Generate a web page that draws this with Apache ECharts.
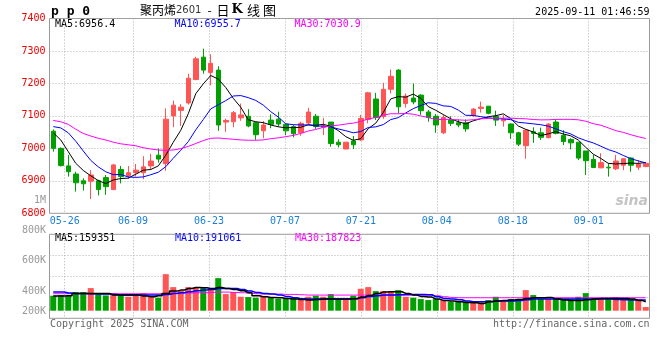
<!DOCTYPE html>
<html>
<head>
<meta charset="utf-8">
<script src="https://cdn.jsdelivr.net/npm/echarts@6/dist/echarts.min.js"></script>
<style>html,body{margin:0;padding:0;background:#fff}#c{width:660px;height:360px}</style>
</head>
<body>
<div id="c"></div>
<script>
// ---------- data ----------
const dates = ['05-22','05-23','05-26','05-27','05-28','05-29','05-30','06-03','06-04','06-05',
'06-06','06-09','06-10','06-11','06-12','06-13','06-16','06-17','06-18','06-19',
'06-20','06-23','06-24','06-25','06-26','06-27','06-30','07-01','07-02','07-03',
'07-04','07-07','07-08','07-09','07-10','07-11','07-14','07-15','07-16','07-17',
'07-18','07-21','07-22','07-23','07-24','07-25','07-28','07-29','07-30','07-31',
'08-01','08-04','08-05','08-06','08-07','08-08','08-11','08-12','08-13','08-14',
'08-15','08-18','08-19','08-20','08-21','08-22','08-25','08-26','08-27','08-28',
'08-29','09-01','09-02','09-03','09-04','09-05','09-08','09-09','09-10','09-11'];

const opens = [7053,7000,6946,6921,6900,6899,6900,6910,6873,6935,
6916,6925,6925,6946,6979,6953,7100,7117,7140,7212,
7281,7234,7241,7081,7082,7094,7099,7079,7054,7087,
7090,7074,7067,7048,7078,7099,7065,7081,7019,6998,
7023,7026,7089,7152,7098,7182,7241,7138,7155,7164,
7112,7099,7048,7087,7079,7079,7101,7123,7130,7099,
7085,7075,7048,7008,7051,7048,7033,7081,7040,7027,
7019,6992,6966,6940,6942,6937,6948,6970,6942,6944];
const closes = [7000,6947,6928,6894,6891,6918,6873,6882,6949,6913,
6925,6933,6943,6961,6967,7090,7133,7127,7216,7276,
7241,7262,7072,7086,7110,7103,7069,7042,7072,7074,
7075,7054,7045,7077,7112,7067,7069,7015,7011,7019,
7011,7092,7171,7095,7182,7222,7128,7161,7143,7116,
7095,7072,7095,7077,7072,7060,7121,7127,7108,7087,
7089,7048,7013,7056,7046,7034,7075,7046,7021,7017,
6970,6962,6941,6956,6940,6961,6968,6948,6952,6954];
const lows = [6990,6944,6913,6867,6870,6844,6855,6857,6873,6892,
6906,6913,6905,6933,6956,6931,7065,7069,7135,7210,
7230,7194,7054,7051,7065,7085,7065,7026,7031,7062,
7067,7041,7034,7039,7072,7060,7041,7005,7003,6998,
6998,7023,7077,7087,7091,7169,7108,7126,7136,7103,
7082,7048,7044,7069,7065,7051,7097,7110,7105,7069,
7067,7029,7007,6968,7017,7026,7031,7043,7010,6997,
6964,6918,6939,6939,6913,6933,6933,6928,6933,6942];
const highs = [7058,7003,6980,6928,6908,6933,6903,6918,6952,6946,
6946,6952,6976,6983,7000,7123,7147,7136,7230,7282,
7307,7290,7253,7092,7115,7138,7121,7082,7084,7105,
7113,7077,7072,7082,7125,7106,7094,7081,7028,7019,
7038,7103,7174,7171,7202,7243,7244,7169,7200,7167,
7118,7106,7103,7099,7089,7089,7124,7144,7130,7116,
7103,7077,7051,7058,7065,7064,7077,7089,7056,7031,
7019,6992,6980,6985,6954,6980,6969,6973,6964,6956];

const ma5 = [7048,7026,6990,6954,6932,6915.6,6900.8,6891.6,6902.6,6907,
6908.4,6920.4,6932.6,6935,6945.8,6978.8,7018.8,7055.6,7106.6,7168.4,
7198.6,7224.4,7213.4,7187.4,7154.2,7126.6,7088,7082,7079.2,7072,
7066.4,7063.4,7064,7065,7072.6,7071,7074,7068,7054.8,7036.2,
7025,7029.6,7060.8,7077.6,7110.2,7152.4,7159.6,7157.6,7167.2,7154,
7128.6,7117.4,7104.2,7091,7082.2,7075.2,7085,7091.4,7097.6,7100.6,
7106.4,7091.8,7069,7058.6,7050.4,7039.4,7044.8,7051.4,7044.4,7038.6,
7025.8,7003.2,6982.2,6969.2,6953.8,6952,6953.2,6954.6,6953.8,6956.6];
const ma10 = [7067,7063,7048,7022,6992,6963,6943,6928,6919,6919.5,
6912,6910.6,6912.1,6918.8,6926.4,6943.6,6969.6,6994.1,7020.8,7057.1,
7088.7,7121.6,7134.5,7147,7161.3,7162.6,7156.2,7147.7,7133.3,7113.1,
7096.5,7075.7,7073,7072.1,7072.3,7068.7,7068.7,7066,7059.9,7054.4,
7048,7051.8,7064.4,7066.2,7073.2,7088.7,7094.6,7109.2,7122.4,7132.1,
7140.5,7138.5,7130.9,7129.1,7118.1,7101.9,7101.2,7097.8,7094.3,7091.4,
7090.8,7088.4,7080.2,7078.1,7075.5,7072.9,7068.3,7060.2,7051.5,7044.5,
7032.6,7024,7016.8,7006.8,6996.2,6988.9,6978.2,6968.4,6961.5,6955.2];
const ma30 = [7086,7082,7074,7059,7046,7038,7031,7026,7019,7014,
7011,7008,7002,6998,6995,6994,6995,6999,7006,7015,
7024,7031,7032,7030,7028,7026,7025,7025,7026,7029.9,
7032.4,7036,7039.9,7046,7053.3,7058.3,7064.8,7069.3,7071.3,7074.9,
7077.7,7083,7090.6,7095.1,7102.3,7106.7,7106.5,7107.6,7105.2,7099.9,
7095,7088.7,7089.4,7089.1,7087.9,7086.4,7088.2,7091,7092.2,7092.6,
7093.1,7092.9,7091.8,7091.1,7088.9,7087.8,7088,7089.1,7089.4,7089.3,
7088,7083.6,7076,7071.3,7063.3,7054.6,7049.2,7042.1,7035.8,7030.4];

// volume, thousands of lots
const vol = [180,188,180,224,224,272,196,184,212,188,
168,180,212,168,156,440,284,240,284,276,
272,272,392,200,224,168,164,156,168,156,
144,144,144,132,168,180,168,200,140,140,
180,264,284,236,236,228,248,168,156,140,
128,140,128,108,112,108,108,100,128,168,
126,140,140,248,188,140,140,140,140,140,
168,212,140,140,140,164,140,128,132,44];
const volMa5 = [176,176,180,208,208,208,208,208,188,188,
188,188,176,168,180,208,236,248,268,280,
276,268,280,268,256,240,216,180,168,160,
156,148,140,136,128,136,140,140,140,140,
144,164,184,208,224,228,228,208,188,172,
164,140,124,116,108,100,96,88,108,116,
124,128,136,148,156,156,160,140,128,124,
124,132,140,148,148,148,148,140,124,108];
const volMa10 = [224,224,212,208,208,204,200,200,196,188,
188,188,188,188,188,196,208,216,228,240,
248,256,268,268,268,256,236,220,208,200,
188,172,156,144,140,140,140,140,140,140,
144,156,172,180,188,188,192,196,196,196,
192,168,148,140,132,116,108,108,112,116,
116,116,124,132,140,140,140,140,140,140,
140,140,140,140,140,136,132,128,128,128];
const volMa30 = [204,204,204,204,204,204,204,204,204,204,
204,204,204,204,204,208,212,212,212,216,
216,220,224,224,220,216,212,204,200,200,
200,196,196,192,188,188,188,188,188,188,
188,188,188,188,188,188,188,188,188,188,
188,180,168,160,156,156,156,156,156,156,
156,156,156,156,156,156,156,156,156,156,
156,156,156,156,156,156,156,156,156,156];

const dateTickLabels = ['05-26','06-09','06-23','07-07','07-21','08-04','08-18','09-01'];
const volTickLabels = ['800K','600K','400K','200K'];
const priceLegend = ['MA5:6956.4','MA10:6955.7','MA30:7030.9'];
const volLegend = ['MA5:159351','MA10:191061','MA30:187823'];

// ---------- chart ----------
const MONO = '"DejaVu Sans Mono"';
const UP = '#ff5555', DOWN = '#00a000';
const DOT = {color:'#b0b0b0', width:1, type:[1,2]};
const FRAME = '#999999';
const isDate = (i, v) => dateTickLabels.indexOf(v) >= 0;

const candleData = opens.map((o, i) => [o, closes[i], lows[i], highs[i]]);
const volData = vol.map((v, i) => ({value: v * 1000, itemStyle: {color: closes[i] >= opens[i] ? UP : DOWN}}));
const k = a => a.map(v => v * 1000);

function txt(x, y, text, size, fill, align, font) {
  return {type:'text', x:x, y:y, silent:true,
    style:{text:text, font:font || (size + 'px ' + MONO), fill:fill, align:align || 'left', verticalAlign:'middle'}};
}

const chart = echarts.init(document.getElementById('c'), null, {renderer:'canvas'});
chart.setOption({
  animation:false,
  backgroundColor:'#ffffff',
  grid:[
    {left:49.5, right:10.5, top:18.5, bottom:146.7, show:true, borderColor:FRAME, borderWidth:1},
    {left:49.5, right:10.5, top:234.3, bottom:41.7, show:true, borderColor:FRAME, borderWidth:1},
    {left:49.5, right:10.5, top:234.3, bottom:49.3}
  ],
  xAxis:[
    {type:'category', gridIndex:0, data:dates, boundaryGap:true, show:false, position:'bottom'},
    {type:'category', gridIndex:0, data:dates, boundaryGap:false, position:'bottom',
      axisLine:{show:false}, axisTick:{show:false},
      axisLabel:{interval:isDate, color:'#1a7fd4', fontFamily:'DejaVu Sans Mono', fontSize:10, margin:3},
      splitLine:{show:true, interval:isDate, lineStyle:DOT}},
    {type:'category', gridIndex:1, data:dates, boundaryGap:false, position:'bottom',
      axisLine:{show:false}, axisTick:{show:false}, axisLabel:{show:false},
      splitLine:{show:true, interval:isDate, lineStyle:DOT}},
    {type:'category', gridIndex:2, data:dates, boundaryGap:true, show:false, position:'bottom'}
  ],
  yAxis:[
    {type:'value', gridIndex:0, min:6800, max:7400, interval:100,
      axisLine:{show:false}, axisTick:{show:false},
      axisLabel:{color:'#ee0000', fontFamily:'DejaVu Sans Mono', fontSize:10, margin:4,
        formatter: v => String(v)},
      splitLine:{show:true, lineStyle:DOT}},
    {type:'value', gridIndex:1, min:0, max:4, interval:1,
      axisLine:{show:false}, axisTick:{show:false}, axisLabel:{show:false},
      splitLine:{show:true, lineStyle:DOT}},
    {type:'value', gridIndex:2, min:0, max:920000, show:false, splitLine:{show:false}}
  ],
  series:[
    {type:'candlestick', xAxisIndex:0, yAxisIndex:0, data:candleData, barWidth:5,
      itemStyle:{color:UP, color0:DOWN, borderColor:UP, borderColor0:DOWN, borderWidth:1}},
    {type:'line', xAxisIndex:0, yAxisIndex:0, data:ma5, symbol:'none', lineStyle:{color:'#000000', width:1}},
    {type:'line', xAxisIndex:0, yAxisIndex:0, data:ma10, symbol:'none', lineStyle:{color:'#0000ff', width:1}},
    {type:'line', xAxisIndex:0, yAxisIndex:0, data:ma30, symbol:'none', lineStyle:{color:'#ff00ff', width:1}},
    {type:'bar', xAxisIndex:3, yAxisIndex:2, data:volData, barWidth:6},
    {type:'line', xAxisIndex:3, yAxisIndex:2, data:k(volMa30), symbol:'none', step:'middle', lineStyle:{color:'#ff00ff', width:1}},
    {type:'line', xAxisIndex:3, yAxisIndex:2, data:k(volMa10), symbol:'none', step:'middle', lineStyle:{color:'#0000ff', width:1.5}},
    {type:'line', xAxisIndex:3, yAxisIndex:2, data:k(volMa5), symbol:'none', step:'middle', lineStyle:{color:'#000000', width:1.5}}
  ],
  graphic:[
    txt(51, 12, 'p p 0', 13, '#000', 'left', 'bold 13px ' + MONO),
    {type:'text', x:140, y:10, silent:true, style:{
      text:'{t|聚丙烯}{n|2601}{d|-}{a|日}{k|K}{b|线}{c|图}',
      verticalAlign:'middle', fill:'#000',
      rich:{
        t:{font:'12px "Noto Sans CJK SC"', fill:'#000'},
        n:{font:'10px "DejaVu Sans"', fill:'#333'},
        d:{font:'12px "Noto Sans CJK SC"', fill:'#000', padding:[0,5,0,6]},
        a:{font:'13px "Noto Sans CJK SC"', fill:'#000', padding:[0,2,0,0]},
        k:{font:'bold 13px "DejaVu Serif"', fill:'#000', padding:[0,4,0,0]},
        b:{font:'13px "Noto Sans CJK SC"', fill:'#000', padding:[0,3,0,0]},
        c:{font:'13px "Noto Sans CJK SC"', fill:'#000'}
      }}},
    txt(649.5, 12, '2025-09-11 01:46:59', 10, '#000', 'right'),
    txt(55, 24, priceLegend[0], 10, '#000000'),
    txt(174.5, 24, priceLegend[1], 10, '#0000ff'),
    txt(294.5, 24, priceLegend[2], 10, '#ff00ff'),
    txt(46, 200, '1M', 10, '#999999', 'right'),
    txt(648, 201, 'sina', 14, '#c4c4c4', 'right', 'italic bold 14px "DejaVu Sans"'),
    txt(46, 230.7, volTickLabels[0], 10, '#999999', 'right'),
    txt(46, 260, volTickLabels[1], 10, '#999999', 'right'),
    txt(46, 291, volTickLabels[2], 10, '#999999', 'right'),
    txt(46, 311, volTickLabels[3], 10, '#999999', 'right'),
    txt(55, 238.3, volLegend[0], 10, '#000000'),
    txt(175, 238.3, volLegend[1], 10, '#0000ff'),
    txt(295, 238.3, volLegend[2], 10, '#ff00ff'),
    txt(50, 324, 'Copyright 2025 SINA.COM', 10, '#666666'),
    txt(649.5, 324, 'http://finance.sina.com.cn', 10, '#666666', 'right')
  ]
});
</script>
</body>
</html>
